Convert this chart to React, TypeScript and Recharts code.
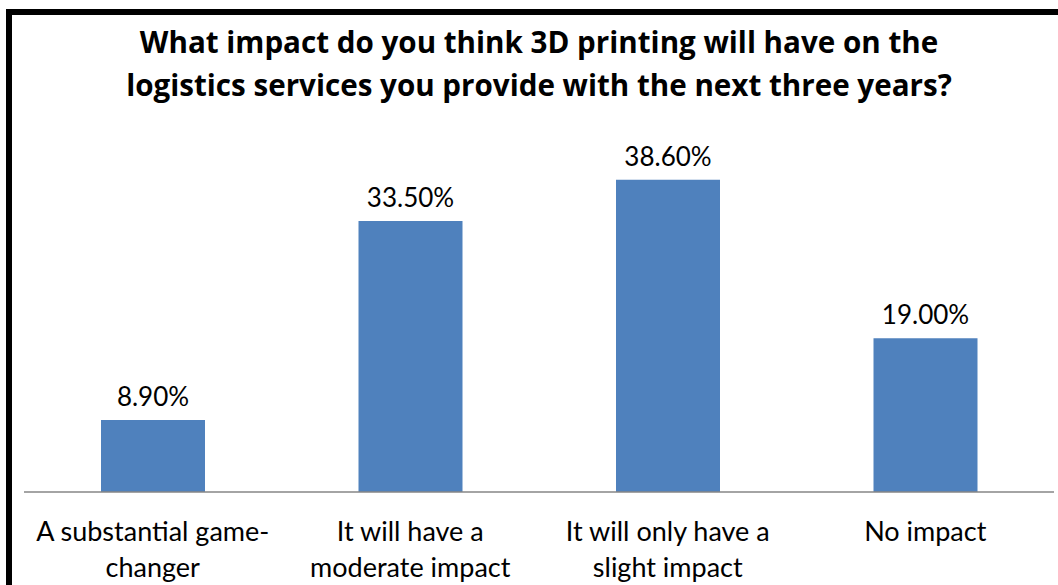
import { BarChart, Bar, XAxis, YAxis, LabelList } from "recharts";

const categories = [
  "A substantial game-changer",
  "It will have a moderate impact",
  "It will only have a slight impact",
  "No impact",
];
const tickLines = [
  ["A substantial game-", "changer"],
  ["It will have a", "moderate impact"],
  ["It will only have a", "slight impact"],
  ["No impact"],
];
const shares = [8.9, 33.5, 38.6, 19.0];
const titleLines = [
  "What impact do you think 3D printing will have on the",
  "logistics services you provide with the next three years?",
];

const data = categories.map((name, i) => ({ name, value: shares[i] }));

const FONT = "Lato, 'Noto Sans', sans-serif";
const TITLE_FONT = "'Open Sans', Lato, sans-serif";

const CategoryTick = ({ x, y, payload }: any) => {
  const idx = categories.indexOf(payload.value);
  const lines = tickLines[idx] ?? [payload.value];
  return (
    <text x={x} y={y} textAnchor="middle" fill="#000" fontSize={27} fontFamily={FONT}>
      {lines.map((l, i) => (
        <tspan key={i} x={x} y={y + 49 + i * 36}>
          {l}
        </tspan>
      ))}
    </text>
  );
};

export default function App() {
  return (
    <div
      style={{
        position: "absolute",
        left: 0,
        top: 0,
        width: 1058,
        height: 585,
        overflow: "hidden",
        background: "#fff",
      }}
    >
      <div
        style={{
          position: "absolute",
          left: 6,
          top: 9,
          width: 1200,
          height: 700,
          borderTop: "6px solid #000",
          borderLeft: "6px solid #000",
        }}
      />
      <svg
        width={1058}
        height={115}
        style={{ position: "absolute", left: 0, top: 0 }}
      >
        {titleLines.map((t, i) => (
          <text
            key={i}
            x={539}
            y={53 + i * 43}
            textAnchor="middle"
            fontSize={29.6}
            fontWeight="bold"
            fontFamily={TITLE_FONT}
            fill="#000"
          >
            {t}
          </text>
        ))}
      </svg>
      <div style={{ position: "absolute", left: 0, top: 0 }}>
        <BarChart
          width={1058}
          height={585}
          data={data}
          margin={{ top: 128, right: 4, bottom: 0, left: 24 }}
        >
          <XAxis
            dataKey="name"
            height={93}
            axisLine={{ stroke: "#868686", strokeWidth: 1.5 }}
            tickLine={false}
            tickSize={0}
            tickMargin={0}
            interval={0}
            tick={<CategoryTick />}
          />
          <YAxis hide domain={[0, 45]} />
          <Bar dataKey="value" fill="#4F81BD" barSize={104} isAnimationActive={false}>
            <LabelList
              dataKey="value"
              position="top"
              offset={14}
              fill="#000"
              fontSize={26}
              fontFamily={FONT}
              formatter={(v: any) => `${Number(v).toFixed(2)}%`}
            />
          </Bar>
        </BarChart>
      </div>
    </div>
  );
}
